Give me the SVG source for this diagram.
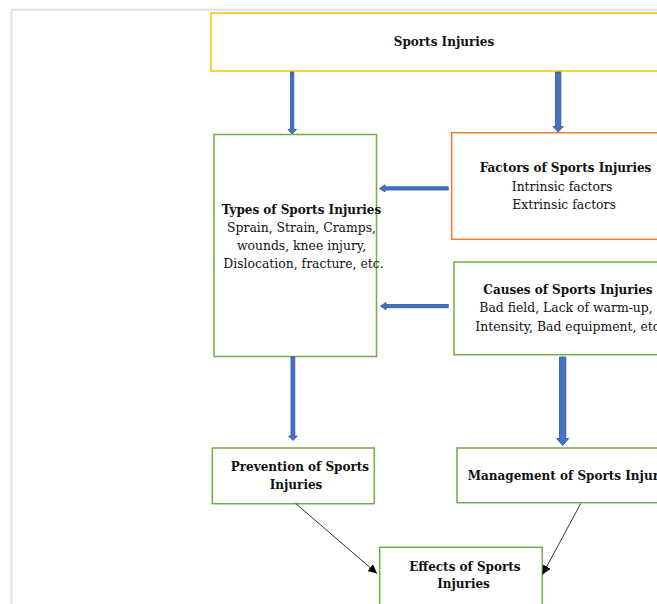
<svg xmlns="http://www.w3.org/2000/svg" width="657" height="604" viewBox="0 0 657 604">
<defs>
<style>
.t{font-family:"DejaVu Serif","Liberation Serif",serif;font-size:12.4px;fill:#111;}
.b{font-weight:bold;font-size:12px;}
.g{fill:#fff;stroke:#70AD47;stroke-width:1.5;}
.blue{fill:#4472C4;stroke:#2F528F;stroke-width:0.8;}
.ln{stroke:#000;stroke-width:0.8;fill:none;marker-end:url(#ah);}
</style>
<marker id="ah" viewBox="0 0 10 10" refX="10" refY="5" markerWidth="9" markerHeight="9" markerUnits="userSpaceOnUse" orient="auto">
<path d="M0,0 L10,5 L0,10 z" fill="#000"/>
</marker>
</defs>
<rect width="657" height="604" fill="#fff"/>
<path d="M11.5,604 V9.8 H657" fill="none" stroke="#E2E2E2" stroke-width="2"/>

<g id="sports-injuries">
<rect x="211" y="13" width="450" height="58" fill="#fff" stroke="#FFC000" stroke-width="1.5"/>
<text class="t b" x="444" y="45.5" text-anchor="middle">Sports Injuries</text>
</g>

<g id="types">
<rect class="g" x="214" y="134.5" width="162.5" height="222"/>
<text class="t" text-anchor="middle">
<tspan class="b" x="303.5" y="213.5">Types of Sports Injuries</tspan>
<tspan x="303.5" y="231.5">Sprain, Strain, Cramps,</tspan>
<tspan x="303.5" y="249.5">wounds, knee injury,</tspan>
<tspan x="303.5" y="267.5">Dislocation, fracture, etc.</tspan>
</text>
</g>

<g id="factors">
<rect x="451.7" y="132.7" width="210" height="106.6" fill="#fff" stroke="#ED7D31" stroke-width="1.5"/>
<text class="t" text-anchor="middle">
<tspan class="b" x="567.5" y="172">Factors of Sports Injuries</tspan>
<tspan x="564" y="190.5">Intrinsic factors</tspan>
<tspan x="564" y="209">Extrinsic factors</tspan>
</text>
</g>

<g id="causes">
<rect class="g" x="454" y="262" width="210" height="92.7"/>
<text class="t b" x="568" y="293.5" text-anchor="middle">Causes of Sports Injuries</text>
<text class="t" x="479.3" y="312">Bad field, Lack of warm-up,</text>
<text class="t" x="475.3" y="331">Intensity, Bad equipment, etc.</text>
</g>

<g id="prevention">
<rect class="g" x="212.3" y="448" width="162" height="55.7"/>
<text class="t b" text-anchor="middle">
<tspan x="302" y="471">Prevention of Sports</tspan>
<tspan x="296" y="488.5">Injuries</tspan>
</text>
</g>

<g id="management">
<rect class="g" x="457" y="448" width="210" height="54.7"/>
<text class="t b" x="467.7" y="480">Management of Sports Injuries</text>
</g>

<g id="effects">
<rect class="g" x="379.7" y="547.3" width="162.6" height="70"/>
<text class="t b" text-anchor="middle">
<tspan x="467" y="571">Effects of Sports</tspan>
<tspan x="463.5" y="587.7">Injuries</tspan>
</text>
</g>

<g id="connectors">
<path class="blue" d="M290.5,72 H293.8 V129.5 H296.5 L292.2,134 L288,129.5 H290.5 Z"/>
<path class="blue" d="M555.5,72 H560.8 V126.5 H563.3 L558.2,132 L553,126.5 H555.5 Z"/>
<path class="blue" d="M448.3,186.8 V190 H385 V192 L379.5,188.4 L385,184.8 V186.8 Z"/>
<path class="blue" d="M448.3,304.5 V307.7 H386 V309.7 L380.5,306.1 L386,302.5 V304.5 Z"/>
<path class="blue" d="M291,357 H294.8 V436 H297.3 L293,440.5 L288.6,436 H291 Z"/>
<path class="blue" d="M559.5,357 H565.8 V438.5 H568.8 L562.7,445.5 L556.5,438.5 H559.5 Z"/>
<line class="ln" x1="295.7" y1="503.5" x2="377" y2="573.5"/>
<line class="ln" x1="580.7" y1="503.5" x2="542.5" y2="574.5"/>
</g>
</svg>
